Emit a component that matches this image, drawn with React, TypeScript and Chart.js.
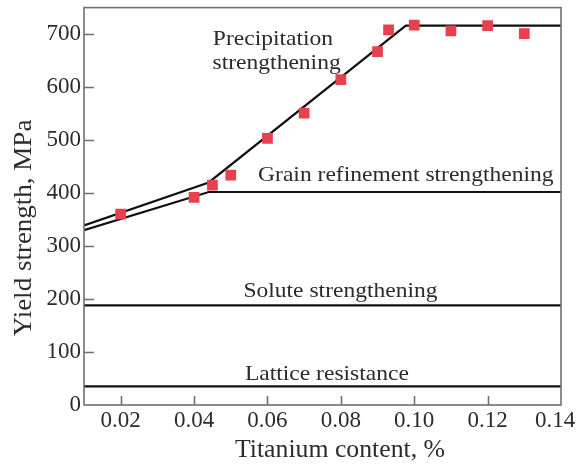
import React, { useEffect, useRef } from "react";
import { Chart, registerables } from "chart.js";

Chart.register(...registerables);

// Measured data points (Titanium content %, yield strength MPa)
const titaniumContent = [0.02, 0.04, 0.045, 0.05, 0.06, 0.07, 0.08, 0.09, 0.093, 0.1, 0.11, 0.12, 0.13];
const yieldStrength = [360, 392, 415, 434, 503, 551, 614, 667, 708, 717, 706, 716, 701];

// Model lines
const precipX = [0.01, 0.044, 0.0977, 0.14];
const precipY = [339, 420, 716, 716];
const grainX = [0.01, 0.044, 0.14];
const grainY = [330, 402, 402];
const soluteX = [0.01, 0.14];
const soluteY = [188, 188];
const latticeX = [0.01, 0.14];
const latticeY = [35, 35];

// Ticks
const xTicks = [0.02, 0.04, 0.06, 0.08, 0.1, 0.12, 0.14];
const xTickLabels = ["0.02", "0.04", "0.06", "0.08", "0.10", "0.12", "0.14"];
const yTicks = [0, 100, 200, 300, 400, 500, 600, 700];

// Annotation labels (text, x value, baseline y value)
const labelTexts = ["Precipitation", "strengthening", "Grain refinement strengthening", "Solute strengthening", "Lattice resistance"];
const labelX = [0.0615, 0.0625, 0.0977, 0.0799, 0.0762];
const labelY = [680, 635, 422, 204, 47];

const SERIF = "'Liberation Serif', 'Times New Roman', serif";
const TEXT = "#2b2b2b";

const toPts = (xs: number[], ys: number[]) => xs.map((x, i) => ({ x, y: ys[i] }));

function stretchedText(ctx: any, text: string, x: number, y: number, sx: number) {
  ctx.save();
  ctx.translate(x, y);
  ctx.scale(sx, 1);
  ctx.fillText(text, 0, 0);
  ctx.restore();
}

export default function App() {
  const ref = useRef<HTMLCanvasElement | null>(null);

  useEffect(() => {
    if (!ref.current) return;
    const deco = {
      id: "deco",
      afterDraw(chart: any) {
        const { ctx, chartArea: a, scales } = chart;
        const xs = scales.x;
        const ys = scales.y;
        ctx.save();
        // frame
        ctx.strokeStyle = "#707070";
        ctx.lineWidth = 1.6;
        ctx.strokeRect(a.left, a.top, a.right - a.left, a.bottom - a.top);
        // inward ticks
        ctx.beginPath();
        xTicks.forEach((v) => {
          if (v >= 0.14) return;
          const px = Math.round(xs.getPixelForValue(v)) + 0.5;
          ctx.moveTo(px, a.bottom);
          ctx.lineTo(px, a.bottom - 9);
        });
        yTicks.forEach((v) => {
          if (v <= 0) return;
          const py = Math.round(ys.getPixelForValue(v)) + 0.5;
          ctx.moveTo(a.left, py);
          ctx.lineTo(a.left + 10, py);
        });
        ctx.stroke();
        ctx.fillStyle = TEXT;
        // x tick labels
        ctx.font = `23px ${SERIF}`;
        ctx.textAlign = "center";
        ctx.textBaseline = "middle";
        xTicks.forEach((v, i) => {
          let px = xs.getPixelForValue(v);
          if (i === xTicks.length - 1) px -= 6;
          ctx.fillText(xTickLabels[i], px, a.bottom + 16);
        });
        // annotation labels
        ctx.font = `22px ${SERIF}`;
        ctx.textBaseline = "alphabetic";
        labelTexts.forEach((t, i) => {
          stretchedText(ctx, t, xs.getPixelForValue(labelX[i]), ys.getPixelForValue(labelY[i]), 1.07);
        });
        // axis titles
        ctx.font = `25px ${SERIF}`;
        stretchedText(ctx, "Titanium content, %", 340, 457, 1.03);
        ctx.textBaseline = "middle";
        ctx.translate(24, 228);
        ctx.rotate(-Math.PI / 2);
        ctx.scale(1.08, 1);
        ctx.fillText("Yield strength, MPa", 0, 0);
        ctx.restore();
      },
    };

    const chart = new Chart(ref.current, {
      type: "scatter",
      data: {
        datasets: [
          {
            data: toPts(titaniumContent, yieldStrength),
            pointStyle: "rect",
            pointRadius: 7.6,
            pointBackgroundColor: "#e8404f",
            pointBorderWidth: 0,
            showLine: false,
            order: 0,
          },
          ...[
            toPts(precipX, precipY),
            toPts(grainX, grainY),
            toPts(soluteX, soluteY),
            toPts(latticeX, latticeY),
          ].map((d) => ({
            data: d,
            showLine: true,
            borderColor: "#111111",
            borderWidth: 2.2,
            pointRadius: 0,
            fill: false,
            order: 1,
          })),
        ],
      },
      options: {
        animation: false,
        responsive: false,
        events: [],
        layout: { padding: { top: 6, right: 19, left: 0, bottom: 0 } },
        plugins: { legend: { display: false }, tooltip: { enabled: false } },
        scales: {
          x: {
            type: "linear",
            min: 0.01,
            max: 0.14,
            grid: { display: false, drawTicks: false },
            border: { display: false },
            afterBuildTicks: (s: any) => {
              s.ticks = xTicks.map((v) => ({ value: v }));
            },
            afterFit: (s: any) => {
              s.height = 62;
              s.paddingLeft = 0;
              s.paddingRight = 0;
            },
            ticks: { display: false },
          },
          y: {
            type: "linear",
            min: 0,
            max: 750,
            grid: { display: false, drawTicks: false },
            border: { display: false },
            afterBuildTicks: (s: any) => {
              s.ticks = yTicks.map((v) => ({ value: v }));
            },
            afterFit: (s: any) => {
              s.width = 84;
              s.paddingTop = 0;
              s.paddingBottom = 0;
            },
            ticks: {
              padding: 3,
              color: TEXT,
              font: { family: SERIF, size: 23 },
              autoSkip: false,
              callback: (v: any) => String(v),
            },
          },
        },
      },
      plugins: [deco],
    } as any);
    return () => chart.destroy();
  }, []);

  return (
    <div style={{ position: "absolute", left: 0, top: 0, width: 580, height: 467, background: "#fff" }}>
      <canvas ref={ref} width={580} height={467} style={{ display: "block" }} />
    </div>
  );
}
